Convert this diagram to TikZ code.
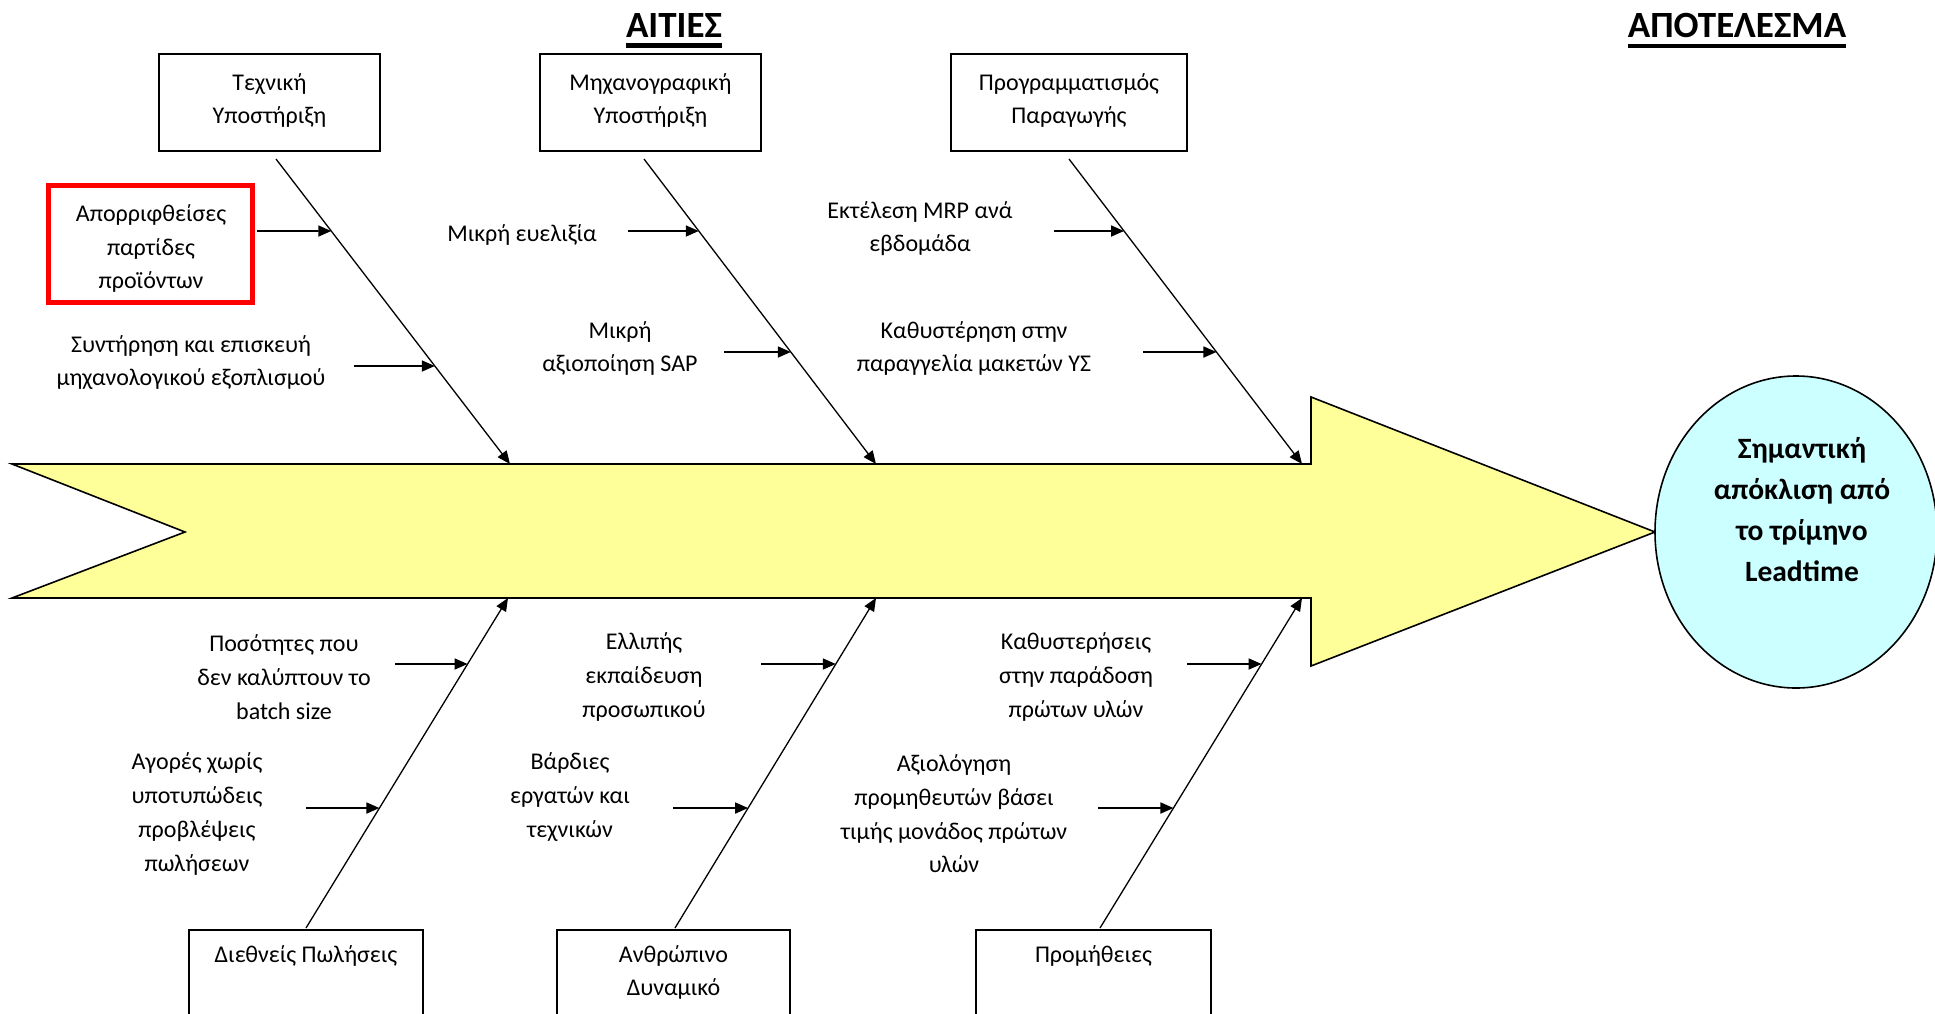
\documentclass[tikz,border=0pt]{standalone}
\usepackage{fontspec}
\setmainfont{Carlito}
\usetikzlibrary{arrows.meta,calc,shapes.geometric}

\begin{document}
\begin{tikzpicture}[x=1pt,y=-1pt,
  lbl/.style={align=center,font=\fontsize{24}{33.7}\selectfont,inner sep=0pt},
  catbox/.style={draw,line width=1.6pt,fill=white,minimum width=221pt,minimum height=97pt,inner sep=0pt},
  lowbox/.style={draw,line width=1.6pt,fill=white,minimum height=120pt,inner sep=0pt,anchor=north},
  bone/.style={line width=1.3pt,-{Triangle[length=13pt,width=11pt]}},
  twig/.style={line width=1.7pt,-{Triangle[length=13pt,width=11pt]}},
  heading/.style={font=\fontsize{37}{40}\selectfont\bfseries,inner sep=0pt},
  rule/.style={line width=4.5pt},
]
\clip (0,0) rectangle (1935,1013);
\useasboundingbox (0,0) rectangle (1935,1013);

% fish body and head
\draw[line width=1.6pt,fill={rgb,255:red,255;green,255;blue,153}]
  (12,464) -- (1311,464) -- (1311,397) -- (1655,532) -- (1311,666)
  -- (1311,598) -- (12,598) -- (185,532) -- cycle;

% effect
\node[ellipse,draw,line width=1.6pt,fill={rgb,255:red,204;green,255;blue,255},
      minimum width=282pt,minimum height=312pt,inner sep=0pt] (effect) at (1796,532) {};
\node[align=center,font=\fontsize{29.5}{41}\selectfont\bfseries,inner sep=0pt] (effecttxt) at (1802,510)
  {Σημαντική\\απόκλιση από\\το τρίμηνο\\Leadtime};

% headings
\node[heading] (causes) at (674,25.5) {ΑΙΤΙΕΣ};
\draw[rule] ($(causes.south west)+(0,8)$) -- ($(causes.south east)+(0,8)$);
\node[heading] (result) at (1737,25.5) {ΑΠΟΤΕΛΕΣΜΑ};
\draw[rule] ($(result.south west)+(0,8)$) -- ($(result.south east)+(0,8)$);

% category boxes
\node[catbox] (B1) at (269.5,102.5) {};
\node[lbl] at (269.5,100.5) {Τεχνική\\Υποστήριξη};
\node[catbox] (B2) at (650.5,102.5) {};
\node[lbl] at (650.5,100.5) {Μηχανογραφική\\Υποστήριξη};
\node[catbox,minimum width=236pt] (B3) at (1069,102.5) {};
\node[lbl] at (1069,100.5) {Προγραμματισμός\\Παραγωγής};

\node[lowbox,minimum width=234pt] (B4) at (306,929) {};
\node[lbl] at (306,956) {Διεθνείς Πωλήσεις};
\node[lowbox,minimum width=233pt] (B5) at (673.5,929) {};
\node[lbl] at (673.5,972.5) {Ανθρώπινο\\Δυναμικό};
\node[lowbox,minimum width=235pt] (B6) at (1093.5,929) {};
\node[lbl] at (1093.5,956) {Προμήθειες};

% bone ends
\coordinate (t1) at (276,159);  \coordinate (e1) at (510,464);
\coordinate (t2) at (644,159);  \coordinate (e2) at (876,464);
\coordinate (t3) at (1069,159); \coordinate (e3) at (1302,464);
\coordinate (b4) at (306,928);  \coordinate (f4) at (508,598);
\coordinate (b5) at (675,928);  \coordinate (f5) at (876,598);
\coordinate (b6) at (1100,928); \coordinate (f6) at (1302,598);

\draw[bone] (t1) -- (e1);
\draw[bone] (t2) -- (e2);
\draw[bone] (t3) -- (e3);
\draw[bone] (b4) -- (f4);
\draw[bone] (b5) -- (f5);
\draw[bone] (b6) -- (f6);

% highlighted cause
\node[draw=red,line width=5pt,minimum width=204pt,minimum height=117pt,inner sep=0pt] (rej) at (150.5,244) {};
\node[lbl] at (151,248.5) {Απορριφθείσες\\παρτίδες\\προϊόντων};

% cause labels
\node[lbl] (c2) at (191,362.5) {Συντήρηση και επισκευή\\μηχανολογικού εξοπλισμού};
\node[lbl] (c3) at (522,235) {Μικρή ευελιξία};
\node[lbl] (c4) at (620,348.5) {Μικρή\\αξιοποίηση SAP};
\node[lbl] (c5) at (920,228.5) {Εκτέλεση MRP ανά\\εβδομάδα};
\node[lbl] (c6) at (974,348.5) {Καθυστέρηση στην\\παραγγελία μακετών ΥΣ};
\node[lbl] (c7) at (284,677) {Ποσότητες που\\δεν καλύπτουν το\\batch size};
\node[lbl] (c8) at (197,814) {Αγορές χωρίς\\υποτυπώδεις\\προβλέψεις\\πωλήσεων};
\node[lbl] (c9) at (644,677) {Ελλιπής\\εκπαίδευση\\προσωπικού};
\node[lbl] (c10) at (570,797) {Βάρδιες\\εργατών και\\τεχνικών};
\node[lbl] (c11) at (1076,677) {Καθυστερήσεις\\στην παράδοση\\πρώτων υλών};
\node[lbl] (c12) at (954,814) {Αξιολόγηση\\προμηθευτών βάσει\\τιμής μονάδος πρώτων\\υλών};

% sub-cause arrows
\coordinate (s1) at (257,231);  \coordinate (s2) at (354,366);
\coordinate (s3) at (628,231);  \coordinate (s4) at (724,352);
\coordinate (s5) at (1054,231); \coordinate (s6) at (1143,352);
\coordinate (s7) at (395,664);  \coordinate (s8) at (306,808);
\coordinate (s9) at (761,664);  \coordinate (s10) at (673,808);
\coordinate (s11) at (1187,664);\coordinate (s12) at (1098,808);

\draw[twig] (s1) -- ($(t1)!0.2361!(e1)$);
\draw[twig] (s2) -- ($(t1)!0.6787!(e1)$);
\draw[twig] (s3) -- ($(t2)!0.2361!(e2)$);
\draw[twig] (s4) -- ($(t2)!0.6328!(e2)$);
\draw[twig] (s5) -- ($(t3)!0.2361!(e3)$);
\draw[twig] (s6) -- ($(t3)!0.6328!(e3)$);
\draw[twig] (s7) -- ($(b4)!0.8!(f4)$);
\draw[twig] (s8) -- ($(b4)!0.3636!(f4)$);
\draw[twig] (s9) -- ($(b5)!0.8!(f5)$);
\draw[twig] (s10) -- ($(b5)!0.3636!(f5)$);
\draw[twig] (s11) -- ($(b6)!0.8!(f6)$);
\draw[twig] (s12) -- ($(b6)!0.3636!(f6)$);
\end{tikzpicture}
\end{document}
